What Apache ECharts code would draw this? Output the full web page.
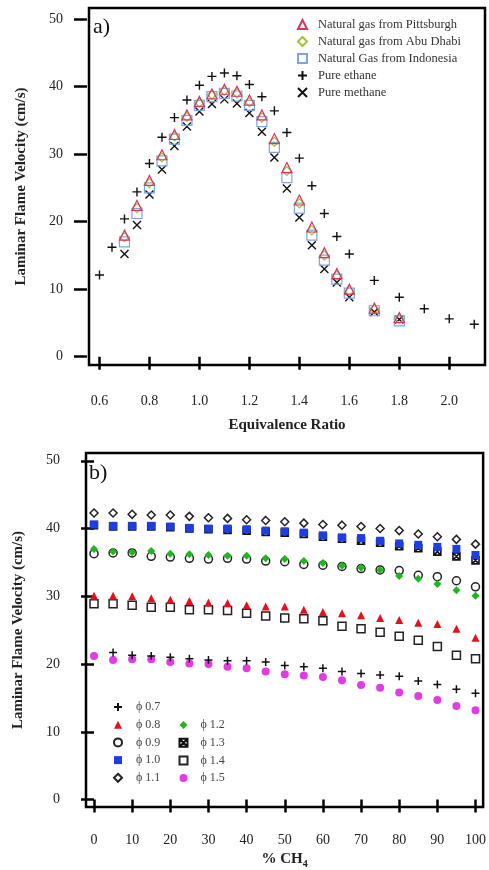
<!DOCTYPE html>
<html><head><meta charset="utf-8">
<script src="https://cdn.jsdelivr.net/npm/echarts@6/dist/echarts.min.js"></script>
<style>html,body{margin:0;padding:0;background:#fff}#c{width:489px;height:870px}</style>
</head><body><div id="c"></div>
<script>
// ---- Panel a) data ----
const phiEthane = [0.6,0.65,0.7,0.75,0.8,0.85,0.9,0.95,1.0,1.05,1.1,1.15,1.2,1.25,1.3,1.35,1.4,1.45,1.5,1.55,1.6,1.7,1.8,1.9,2.0,2.1];
const ethane = [12.1,16.2,20.4,24.4,28.6,32.5,35.4,38.0,40.2,41.5,42.0,41.6,40.3,38.5,36.4,33.2,29.4,25.3,21.2,17.8,15.2,11.3,8.8,7.1,5.6,4.8];
const phiGas = [0.7,0.75,0.8,0.85,0.9,0.95,1.0,1.05,1.1,1.15,1.2,1.25,1.3,1.35,1.4,1.45,1.5,1.55,1.6,1.7,1.8];
const pittsburgh = [18.0,22.4,26.1,29.9,32.9,35.8,37.8,38.9,39.6,39.3,38.0,35.8,32.3,28.0,23.2,19.2,15.4,12.3,10.0,7.2,5.8];
const abuDhabi = [17.7,22.0,25.7,29.5,32.6,35.5,37.6,38.8,39.4,39.0,37.7,35.4,31.8,27.5,22.7,18.7,15.0,12.0,9.7,7.0,5.6];
const indonesia = [17.0,21.2,25.0,29.0,32.2,35.0,37.2,38.5,39.0,38.6,37.2,34.8,31.0,26.5,22.0,18.0,14.3,11.5,9.4,6.8,5.3];
const methane = [15.2,19.5,24.0,27.7,31.2,34.1,36.3,37.4,38.1,37.5,36.1,33.3,29.5,24.9,20.6,16.5,13.0,11.0,8.8,6.6,5.5];
const ticksA_x = [0.6,0.8,1.0,1.2,1.4,1.6,1.8,2.0];
const ticksY = [0,10,20,30,40,50];

// ---- Panel b) data ----
const pctCH4 = [0,5,10,15,20,25,30,35,40,45,50,55,60,65,70,75,80,85,90,95,100];
const pctCH4_07 = [5,10,15,20,25,30,35,40,45,50,55,60,65,70,75,80,85,90,95,100];
const phi07 = [21.7,21.3,21.2,21.0,20.8,20.6,20.5,20.5,20.3,19.8,19.6,19.4,18.9,18.6,18.4,18.2,17.5,17.0,16.3,15.7];
const phi08 = [30.1,30.1,30.0,29.7,29.5,29.3,29.1,29.0,28.7,28.5,28.5,28.0,27.7,27.5,27.2,26.8,26.5,26.1,25.9,25.2,23.9];
const phi09 = [36.3,36.4,36.4,35.9,35.8,35.6,35.5,35.6,35.5,35.2,35.1,34.7,34.6,34.4,34.1,33.9,33.8,33.1,32.9,32.3,31.4];
const phi10 = [40.6,40.4,40.4,40.4,40.3,40.1,40.0,40.0,39.9,39.7,39.6,39.4,39.0,38.7,38.6,38.2,37.8,37.6,37.3,37.0,36.1];
const phi11 = [42.3,42.3,42.1,42.0,42.0,41.8,41.6,41.5,41.3,41.2,41.0,40.8,40.6,40.5,40.3,40.0,39.7,39.2,38.8,38.4,37.7];
const phi12 = [37.0,36.6,36.5,36.7,36.3,36.2,36.1,36.0,36.0,35.6,35.5,35.2,34.9,34.5,34.2,33.9,33.0,32.6,31.8,30.9,30.1];
const phi13 = [40.5,40.3,40.3,40.3,40.2,40.0,39.9,39.8,39.7,39.5,39.4,39.2,38.8,38.5,38.2,37.9,37.4,37.1,36.6,35.9,35.3];
const phi14 = [28.9,28.9,28.7,28.4,28.4,28.0,28.0,27.9,27.5,27.1,26.8,26.7,26.4,25.6,25.2,24.7,24.1,23.5,22.6,21.3,20.8];
const phi15 = [21.2,20.6,20.7,20.7,20.3,20.1,20.0,19.6,19.4,18.9,18.5,18.3,18.1,17.6,16.9,16.5,15.8,15.3,14.7,13.8,13.2];
const ticksB_x = [0,10,20,30,40,50,60,70,80,90,100];

const namesA = ['Natural gas from Pittsburgh','Natural gas from Abu Dhabi','Natural Gas from Indonesia','Pure ethane','Pure methane'];
const namesB1 = ['ϕ 0.7','ϕ 0.8','ϕ 0.9','ϕ 1.0','ϕ 1.1'];
const namesB2 = ['ϕ 1.2','ϕ 1.3','ϕ 1.4','ϕ 1.5'];

const FONT = 'Liberation Serif';
const PLUS = 'path://M5,0V10M0,5H10';
const CROSS = 'path://M0,0L10,10M10,0L0,10';
const XBOX = 'path://M0,0H10V10H0ZM0,0L10,10M10,0L0,10';

function pairs(xs, ys){ return xs.map((x,i)=>[x, ys[i]]); }

function xAxisCfg(gridIndex, min, max, ticks, fmt, margin, name, nameGap, nameRich){
  return {
    type:'value', gridIndex, min, max, offset:3,
    axisLine:{show:false}, splitLine:{show:false},
    axisTick:{show:true, length:13, customValues:ticks, lineStyle:{color:'#000', width:2.5}},
    axisLabel:{customValues:ticks, formatter:fmt, margin, fontFamily:FONT, fontSize:14, color:'#222'},
    name, nameLocation:'middle', nameGap,
    nameTextStyle:{fontFamily:FONT, fontSize:15, fontWeight:'bold', color:'#222', rich:nameRich}
  };
}
function yAxisCfg(gridIndex, min, max){
  return {
    type:'value', gridIndex, min, max, offset:2,
    axisLine:{show:false}, splitLine:{show:false},
    axisTick:{show:true, length:13, customValues:ticksY, lineStyle:{color:'#000', width:2.5}},
    axisLabel:{customValues:ticksY, margin:24, fontFamily:FONT, fontSize:14, color:'#222'},
    name:'Laminar Flame Velocity (cm/s)', nameLocation:'middle', nameGap:58,
    nameTextStyle:{fontFamily:FONT, fontSize:15, fontWeight:'bold', color:'#222'}
  };
}

function sc(name, xi, data, symbol, size, fill, border, bw, z){
  return {
    type:'scatter', name, xAxisIndex:xi, yAxisIndex:xi, data, symbol, symbolSize:size,
    itemStyle:{color:fill, borderColor:border, borderWidth:bw, opacity:1}, z:z||2,
    emphasis:{disabled:true}
  };
}

const option = {
  animation:false,
  backgroundColor:'#fff',
  grid:[
    {left:89, top:8, width:396, height:357, show:true, borderColor:'#000', borderWidth:2.5, backgroundColor:'transparent'},
    {left:86, top:453, width:399, height:354, show:true, borderColor:'#000', borderWidth:2.5, backgroundColor:'transparent'}
  ],
  xAxis:[
    xAxisCfg(0, 0.558, 2.143, ticksA_x, v=>v.toFixed(1), 26, 'Equivalence Ratio', 50),
    xAxisCfg(1, -2.1, 102, ticksB_x, v=>String(v), 23, '% CH{sub|4}', 40, {sub:{fontFamily:FONT, fontSize:10, fontWeight:'bold', padding:[9,0,0,0]}})
  ],
  yAxis:[
    yAxisCfg(0, -1.23, 51.63),
    yAxisCfg(1, -1.09, 51.15)
  ],
  graphic:[
    {type:'text', left:93, top:16, style:{text:'a)', font:'22px "Liberation Serif"', fill:'#111'}},
    {type:'text', left:89, top:462, style:{text:'b)', font:'22px "Liberation Serif"', fill:'#111'}}
  ],
  legend:[
    {data:namesA, orient:'vertical', left:292, top:13, itemWidth:9, itemHeight:9, itemGap:4,
     textStyle:{fontFamily:FONT, fontSize:12.5, color:'#333', lineHeight:13, padding:[0,0,0,6]}},
    {data:namesB1, orient:'vertical', left:108, top:695, itemWidth:8, itemHeight:8, itemGap:3.7,
     textStyle:{fontFamily:FONT, fontSize:12, color:'#444', lineHeight:14, padding:[0,0,0,9]}},
    {data:namesB2, orient:'vertical', left:173.5, top:713, itemWidth:8, itemHeight:8, itemGap:3.7,
     textStyle:{fontFamily:FONT, fontSize:12, color:'#444', lineHeight:14, padding:[0,0,0,8]}}
  ],
  series:[
    sc(namesA[4], 0, pairs(phiGas, methane), CROSS, 8, 'transparent', '#111', 1.4),
    sc(namesA[2], 0, pairs(phiGas, indonesia), 'rect', 10, 'transparent', '#7fa3e6', 1.2),
    sc(namesA[1], 0, pairs(phiGas, abuDhabi), 'diamond', 9, 'transparent', '#9cc43c', 1.2),
    sc(namesA[0], 0, pairs(phiGas, pittsburgh), 'triangle', 10, 'transparent', '#d4365e', 1.2),
    sc(namesA[3], 0, pairs(phiEthane, ethane), PLUS, 9, 'transparent', '#111', 1.4),

    sc(namesB2[1], 1, pairs(pctCH4, phi13), XBOX, 7, 'transparent', '#111', 1.6),
    sc(namesB1[3], 1, pairs(pctCH4, phi10), 'rect', 8, '#1d3fe0', '#1d3fe0', 0),
    sc(namesB1[4], 1, pairs(pctCH4, phi11), 'diamond', 8, 'transparent', '#222', 1.5),
    sc(namesB1[2], 1, pairs(pctCH4, phi09), 'circle', 8, 'transparent', '#222', 1.5),
    sc(namesB2[0], 1, pairs(pctCH4, phi12), 'diamond', 8, '#21b521', '#21b521', 0),
    sc(namesB2[2], 1, pairs(pctCH4, phi14), 'rect', 8, 'transparent', '#222', 1.5),
    sc(namesB1[1], 1, pairs(pctCH4, phi08), 'triangle', 8, '#e3101e', '#e3101e', 0),
    sc(namesB2[3], 1, pairs(pctCH4, phi15), 'circle', 8, '#e23be6', '#e23be6', 0),
    sc(namesB1[0], 1, pairs(pctCH4_07, phi07), PLUS, 8, 'transparent', '#111', 1.5)
  ]
};
const chart = echarts.init(document.getElementById('c'), null, {renderer:'canvas'});
chart.setOption(option);
</script>
</body></html>
